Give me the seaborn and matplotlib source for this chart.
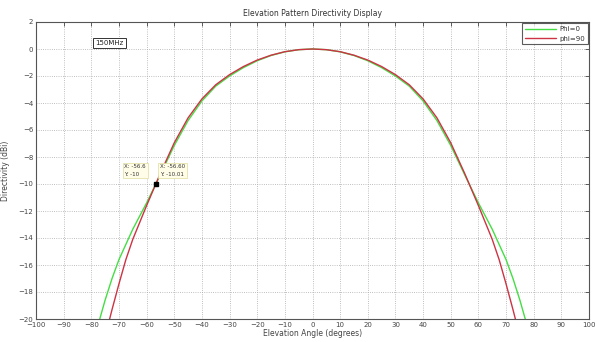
import numpy as np
import pandas as pd
import matplotlib
matplotlib.use("Agg")
import matplotlib.pyplot as plt
import seaborn as sns

# Phi=0 (green)
angles_phi0 = [-80, -77.5, -75, -72.5, -70, -65, -60, -55, -50, -45, -40, -35, -30, -25, -20, -15, -10, -5, 0,
               5, 10, 15, 20, 25, 30, 35, 40, 45, 50, 55, 60, 65, 70, 72.5, 75, 77.5, 80]
dir_phi0 = [-22.4, -20.4, -18.6, -17.0, -15.6, -13.35, -11.4, -9.3, -7.15, -5.3, -3.85, -2.75, -2.0, -1.38, -0.87, -0.48, -0.21, -0.05, 0.0,
            -0.05, -0.21, -0.48, -0.87, -1.38, -2.0, -2.75, -3.85, -5.3, -7.15, -9.3, -11.4, -13.35, -15.6, -17.0, -18.6, -20.4, -22.4]
# phi=90 (red)
angles_phi90 = [-77.5, -75, -72.5, -70, -67.5, -65, -60, -55, -50, -45, -40, -35, -30, -25, -20, -15, -10, -5, 0,
                5, 10, 15, 20, 25, 30, 35, 40, 45, 50, 55, 60, 65, 67.5, 70, 72.5, 75, 77.5]
dir_phi90 = [-23.5, -21.3, -19.3, -17.4, -15.6, -14.1, -11.6, -9.2, -6.95, -5.1, -3.7, -2.65, -1.9, -1.3, -0.82, -0.46, -0.2, -0.05, 0.0,
             -0.05, -0.2, -0.46, -0.82, -1.3, -1.9, -2.65, -3.7, -5.1, -6.95, -9.2, -11.6, -14.1, -15.6, -17.4, -19.3, -21.3, -23.5]
series_names = ["Phi=0", "phi=90"]
x_ticks = list(range(-100, 101, 10))
y_ticks = list(range(-20, 3, 2))
cursor_x = -56.6
cursor_y = -10
cursor_labels = ["X: -56.6\nY: -10", "X: -56.60\nY: -10.01"]

df = pd.concat([
    pd.DataFrame({"angle": angles_phi0, "dir": dir_phi0, "series": series_names[0]}),
    pd.DataFrame({"angle": angles_phi90, "dir": dir_phi90, "series": series_names[1]}),
])

sns.set_theme(style="white")
plt.rcParams['font.family'] = ['DejaVu Sans']

fig = plt.figure(figsize=(5.95, 3.42), dpi=100)
ax = fig.add_axes([36/595, 23/342, 553/595, 297/342])

sns.lineplot(data=df, x="angle", y="dir", hue="series", hue_order=series_names,
             palette={"Phi=0": "#44dd44", "phi=90": "#cc3344"}, linewidth=1.0,
             estimator=None, sort=True, ax=ax)

ax.set_xlim(-100, 100)
ax.set_ylim(-20, 2)
ax.set_xticks(x_ticks)
ax.set_yticks(y_ticks)
ax.tick_params(labelsize=5, colors="#444444", direction="in", length=3, width=0.6,
               top=True, right=True, pad=2)
ax.grid(True, linestyle=":", color="#aaaaaa", linewidth=0.6)
for s in ax.spines.values():
    s.set_color("#555555")
    s.set_linewidth(0.8)

ax.set_title("Elevation Pattern Directivity Display", fontsize=5.5, color="#333333", pad=4)
ax.set_xlabel("Elevation Angle (degrees)", fontsize=5.5, color="#444444", labelpad=1)
ax.set_ylabel("Directivity (dBi)", fontsize=5.5, color="#444444", labelpad=6)

leg = ax.legend(loc="upper right", fontsize=5, frameon=True, fancybox=False,
                handlelength=4.5, borderpad=0.4, labelspacing=0.5, handletextpad=0.4,
                borderaxespad=0.2, markerfirst=True)
leg.get_frame().set_edgecolor("#333333")
leg.get_frame().set_linewidth(0.8)
for t in leg.get_texts():
    t.set_color("#333333")

ax.text(-78.5, 0.2, "150MHz", fontsize=5, color="#222222", va="bottom", ha="left",
        bbox=dict(boxstyle="square,pad=0.3", fc="white", ec="#333333", lw=0.7))

ax.plot([cursor_x], [cursor_y], marker="s", color="black", markersize=3.5, zorder=5)
ax.text(-68.0, -9.0, cursor_labels[0], fontsize=4, color="#333333", va="center", ha="left",
        linespacing=1.5,
        bbox=dict(boxstyle="square,pad=0.35", fc="#fffde8", ec="#dddd99", lw=0.5))
ax.text(-55.0, -9.0, cursor_labels[1], fontsize=4, color="#333333", va="center", ha="left",
        linespacing=1.5,
        bbox=dict(boxstyle="square,pad=0.35", fc="#fffde8", ec="#dddd99", lw=0.5))

fig.savefig("out.png", dpi=100)
